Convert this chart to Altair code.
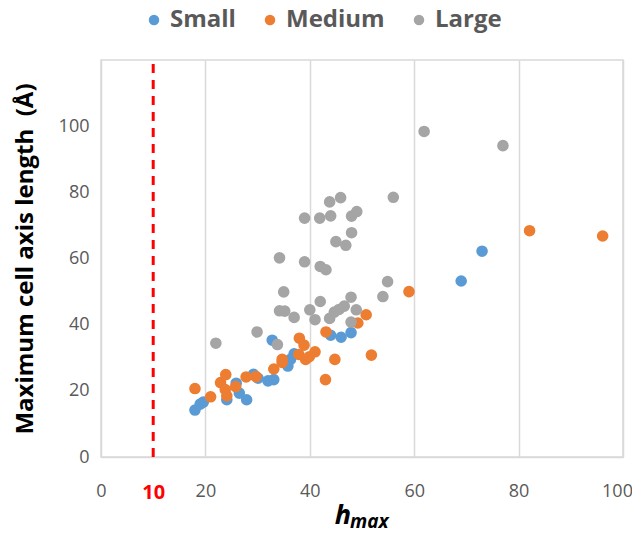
import altair as alt
import pandas as pd

# ---- data ----
small_x = [18.0, 19.0, 19.6, 24.1, 25.9, 26.5, 27.9, 29.2, 30.1, 32.0, 33.1,
           32.8, 35.8, 36.3, 37.0, 44.0, 46.0, 47.9, 69.0, 73.0]
small_y = [14.2, 16.0, 16.6, 17.3, 22.3, 19.3, 17.3, 25.0, 23.8, 23.0, 23.4,
           35.3, 27.5, 29.5, 31.2, 36.8, 36.2, 37.6, 53.2, 62.2]

medium_x = [18.0, 21.0, 22.9, 23.9, 23.8, 24.1, 25.8, 27.8, 29.7, 33.1, 34.7,
            34.7, 38.0, 38.9, 37.9, 39.2, 39.9, 41.0, 43.1, 44.8, 43.0, 49.2,
            50.8, 51.8, 59.0, 82.1, 96.1]
medium_y = [20.7, 18.2, 22.5, 24.9, 20.4, 18.5, 21.3, 24.2, 24.3, 26.6, 28.6,
            29.5, 35.9, 33.8, 31.0, 29.5, 30.3, 31.8, 37.8, 29.5, 23.4, 40.5,
            43.0, 30.8, 50.0, 68.4, 66.8]

large_x = [22.0, 29.9, 33.8, 34.2, 35.2, 35.0, 37.0, 40.0, 41.0, 42.0, 43.8,
           44.7, 45.6, 46.6, 47.9, 48.9, 47.9, 34.2, 39.0, 42.0, 43.1, 45.9,
           43.8, 39.0, 41.9, 44.0, 48.0, 49.0, 48.0, 45.0, 46.9, 54.9, 54.0,
           56.0, 61.9, 77.0]
large_y = [34.4, 37.8, 34.0, 44.2, 44.1, 49.9, 42.2, 44.5, 41.5, 47.0, 41.9,
           43.8, 44.6, 45.6, 48.3, 44.5, 40.8, 60.2, 59.0, 57.6, 56.6, 78.4,
           77.1, 72.2, 72.2, 72.9, 72.8, 74.2, 67.8, 65.1, 64.0, 53.0, 48.5,
           78.5, 98.4, 94.1]

categories = ["Small", "Medium", "Large"]
colors = ["#5B9BD5", "#ED7D31", "#A5A5A5"]
threshold = 10
x_ticks = [0, 10, 20, 40, 60, 80, 100]
y_ticks = [0, 20, 40, 60, 80, 100, 120]

rows = []
for cat, xs, ys in zip(categories, [small_x, medium_x, large_x], [small_y, medium_y, large_y]):
    for xv, yv in zip(xs, ys):
        rows.append({"hmax": xv, "len": yv, "size": cat})
df = pd.DataFrame(rows)
df["order"] = df["size"].map({c: i for i, c in enumerate(categories)})

FONT = "Open Sans"
GRID = "#D9D9D9"
LABEL = "#595959"

x_axis = alt.Axis(
    values=x_ticks, title=None, labelFont=FONT, labelFlush=False,
    labelFontSize={"condition": {"test": "datum.value == 10", "value": 20}, "value": 18},
    labelColor={"condition": {"test": "datum.value == 10", "value": "#FF0000"}, "value": LABEL},
    labelFontWeight={"condition": {"test": "datum.value == 10", "value": "bold"}, "value": "normal"},
    labelOffset={"condition": {"test": "datum.value == 100", "value": -6}, "value": 0},
    labelPadding=25, tickSize=0, ticks=False,
    gridColor=GRID, gridWidth=1.5,
    gridOpacity={"condition": {"test": "datum.value == 10 || datum.value == 0", "value": 0}, "value": 1},
    domainColor=GRID, domainWidth=1.5,
)
y_axis = alt.Axis(
    values=y_ticks, title="Maximum cell axis length\u00a0 (Å)",
    labelExpr="datum.value == 120 ? '' : datum.label",
    labelFont=FONT, labelFontSize=18, labelColor=LABEL,
    labelPadding=12, tickSize=0, ticks=False,
    gridColor=GRID, gridWidth=1.5, domainColor=GRID, domainWidth=1.5,
    titleFont=FONT, titleFontSize=24, titleFontWeight="bold", titleColor="#000000",
    titlePadding=21,
)

points = alt.Chart(df).mark_circle(size=135, opacity=1).encode(
    x=alt.X("hmax:Q", scale=alt.Scale(domain=[0, 100], nice=False), axis=x_axis),
    y=alt.Y("len:Q", scale=alt.Scale(domain=[0, 120], nice=False), axis=y_axis),
    color=alt.Color("size:N", scale=alt.Scale(domain=categories, range=colors),
                    sort=categories,
                    legend=alt.Legend(title=None, orient="none", direction="horizontal",
                                      legendX=41, legendY=-52, symbolType="circle",
                                      symbolSize=110, symbolStrokeWidth=0,
                                      labelFont=FONT, labelFontSize=24, labelFontWeight="bold",
                                      labelColor=LABEL, columnPadding=22, labelOffset=4)),
    order=alt.Order("order:Q"),
)

rule = alt.Chart(pd.DataFrame({"t": [threshold]})).mark_rule(
    color="#FF0000", strokeWidth=3, strokeDash=[9, 7]
).encode(x="t:Q", y=alt.datum(0), y2=alt.datum(120))

h_text = alt.Chart(pd.DataFrame({"t": ["h"]})).mark_text(
    font=FONT, fontSize=27, fontWeight="bold", fontStyle="italic", align="right",
    baseline="alphabetic", color="#000000"
).encode(text="t:N", x=alt.value(250), y=alt.value(464))
max_text = alt.Chart(pd.DataFrame({"t": ["max"]})).mark_text(
    font=FONT, fontSize=19, fontWeight="bold", fontStyle="italic", align="left",
    baseline="alphabetic", color="#000000"
).encode(text="t:N", x=alt.value(249), y=alt.value(468))

chart = alt.layer(rule, points, h_text, max_text).properties(
    width=522, height=397,
    autosize=alt.AutoSizeParams(type="none"),
    padding={"left": 93, "top": 52, "right": 9, "bottom": 75},
).configure_view(stroke=GRID, strokeWidth=1.5)

chart.save("out.html", embed_options={"renderer": "svg", "actions": False})
